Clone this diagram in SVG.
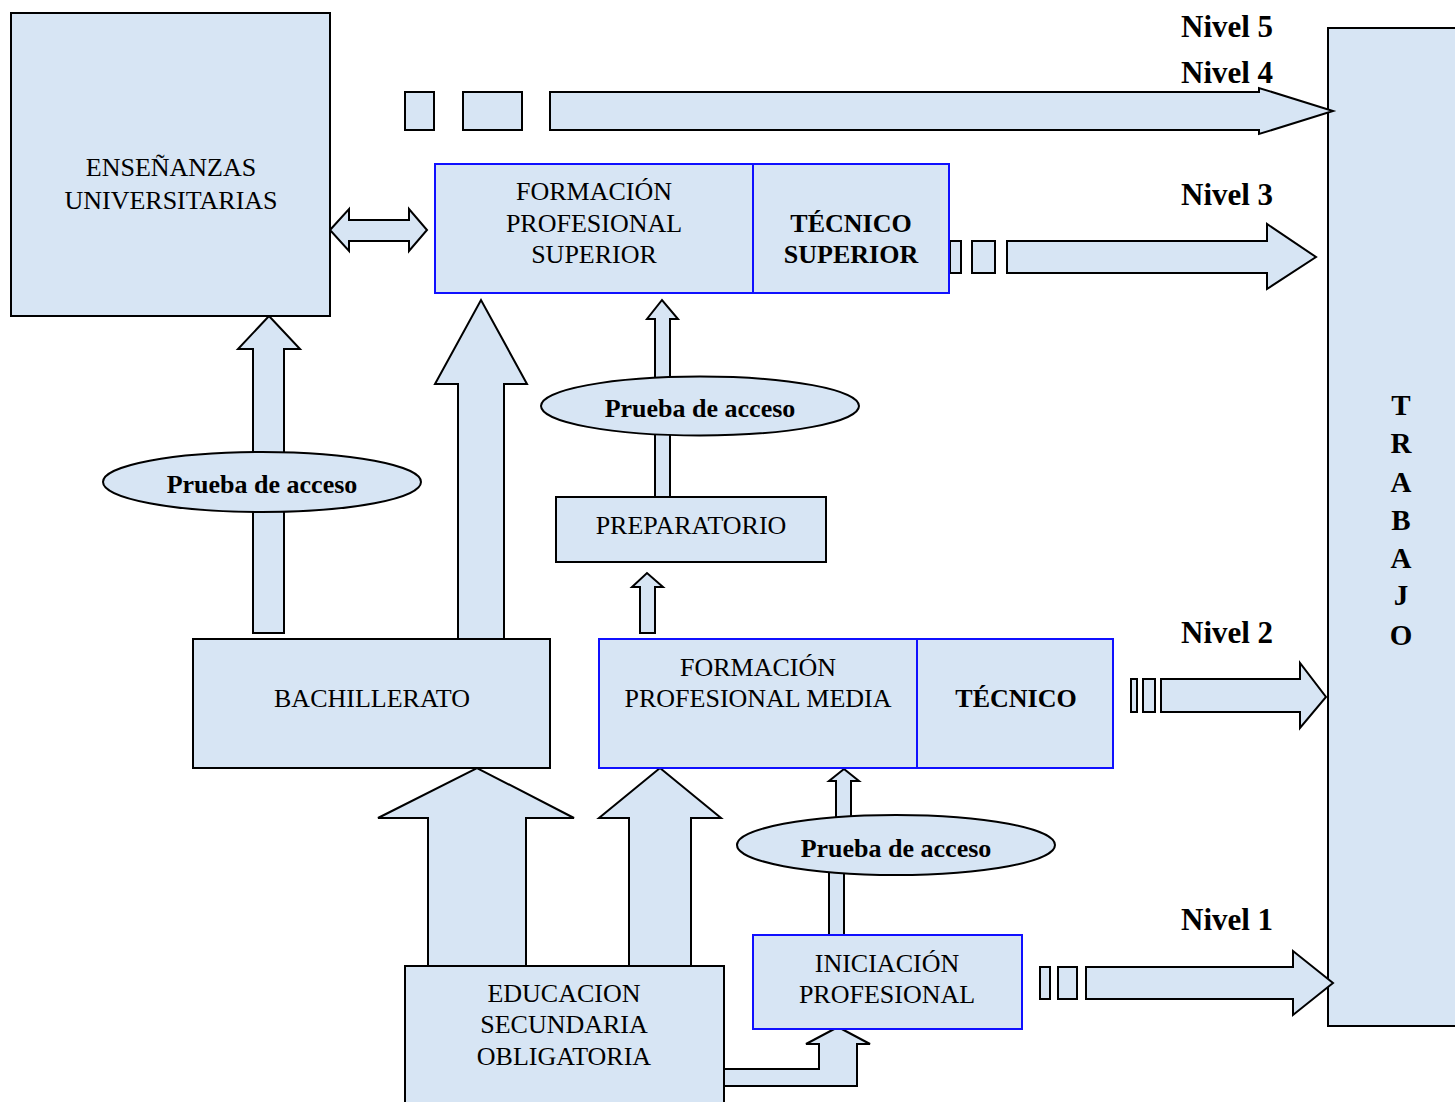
<svg xmlns="http://www.w3.org/2000/svg" width="1455" height="1102" viewBox="0 0 1455 1102">
<style>
.n{fill:#d7e5f4;stroke:#000;stroke-width:2}
.b{fill:#d7e5f4;stroke:#1010ff;stroke-width:2}
.a{fill:#d7e5f4;stroke:#000;stroke-width:2;stroke-linejoin:miter}
.t{font-family:"Liberation Serif","Times New Roman",serif;font-size:26px;fill:#000;text-anchor:middle}
.tb{font-family:"Liberation Serif","Times New Roman",serif;font-size:26px;font-weight:bold;fill:#000;text-anchor:middle}
.nv{font-family:"Liberation Serif","Times New Roman",serif;font-size:31px;font-weight:bold;fill:#000}
</style>
<rect width="1455" height="1102" fill="#fff"/>
<g id="trabajo">
<rect class="n" x="1328" y="28" width="140" height="998"/>
<text class="tb" x="1401" y="415" style="font-size:29px">T</text>
<text class="tb" x="1401" y="453" style="font-size:29px">R</text>
<text class="tb" x="1401" y="492" style="font-size:29px">A</text>
<text class="tb" x="1401" y="530" style="font-size:29px">B</text>
<text class="tb" x="1401" y="568" style="font-size:29px">A</text>
<text class="tb" x="1401" y="605" style="font-size:29px">J</text>
<text class="tb" x="1401" y="645" style="font-size:29px">O</text>
</g>
<g id="connectors">
<path class="a" d="M253,633 L253,349 L238,349 L269,316 L300,349 L284,349 L284,633 Z"/>
<path class="a" d="M458,639 L458,384 L435,384 L481,300 L527,384 L504,384 L504,639 Z"/>
<path class="a" d="M655,497 L655,319 L647,319 L662,300 L678,319 L670,319 L670,497 Z"/>
<path class="a" d="M640,633 L640,587 L632,587 L647,573 L663,587 L655,587 L655,633 Z"/>
<path class="a" d="M428,966 L428,818 L378,818 L477,768 L574,818 L526,818 L526,966 Z"/>
<path class="a" d="M629,966 L629,818 L599,818 L660,768 L721,818 L691,818 L691,966 Z"/>
<path class="a" d="M836,830 L836,781 L829,781 L844,769 L859,781 L851,781 L851,830 Z"/>
<rect class="a" x="829" y="860" width="15" height="75"/>
<path class="a" d="M724,1069 L819,1069 L819,1044 L806,1044 L838,1027 L870,1044 L857,1044 L857,1086 L724,1086"/>
<path class="a" d="M330,230 L349,209 L349,220 L409,220 L409,209 L427,230 L409,251 L409,241 L349,241 L349,251 Z"/>
<rect class="a" x="405" y="92" width="29" height="38"/>
<rect class="a" x="463" y="92" width="59" height="38"/>
<path class="a" d="M550,92 L1259,92 L1259,88 L1333,111 L1259,134 L1259,130 L550,130 Z"/>
<rect class="a" x="950" y="241" width="11" height="32"/>
<rect class="a" x="972" y="241" width="23" height="32"/>
<path class="a" d="M1007,241 L1267,241 L1267,224 L1316,257 L1267,289 L1267,273 L1007,273 Z"/>
<rect class="a" x="1131" y="679" width="6" height="33"/>
<rect class="a" x="1143" y="679" width="12" height="33"/>
<path class="a" d="M1161,679 L1300,679 L1300,663 L1326,697 L1300,728 L1300,712 L1161,712 Z"/>
<rect class="a" x="1040" y="967" width="10" height="32"/>
<rect class="a" x="1058" y="967" width="19" height="32"/>
<path class="a" d="M1086,967 L1293,967 L1293,951 L1333,983 L1293,1015 L1293,999 L1086,999 Z"/>
</g>
<g id="universitarias">
<rect class="n" x="11" y="13" width="319" height="303"/>
<text class="t" x="171" y="176">ENSEÑANZAS</text>
<text class="t" x="171" y="209">UNIVERSITARIAS</text>
</g>
<g id="fp-superior">
<rect class="b" x="435" y="164" width="514" height="129"/>
<line x1="753" y1="164" x2="753" y2="293" stroke="#1010ff" stroke-width="2"/>
<text class="t" x="594" y="200">FORMACIÓN</text>
<text class="t" x="594" y="232">PROFESIONAL</text>
<text class="t" x="594" y="263">SUPERIOR</text>
<text class="tb" x="851" y="232">TÉCNICO</text>
<text class="tb" x="851" y="263">SUPERIOR</text>
</g>
<g id="prueba-1">
<ellipse class="n" cx="262" cy="482" rx="159" ry="30"/>
<text class="tb" x="262" y="493">Prueba de acceso</text>
</g>
<g id="prueba-2">
<ellipse class="n" cx="700" cy="406" rx="159" ry="29.5"/>
<text class="tb" x="700" y="417">Prueba de acceso</text>
</g>
<g id="prueba-3">
<ellipse class="n" cx="896" cy="845" rx="159" ry="30"/>
<text class="tb" x="896" y="857">Prueba de acceso</text>
</g>
<g id="preparatorio">
<rect class="n" x="556" y="497" width="270" height="65"/>
<text class="t" x="691" y="534">PREPARATORIO</text>
</g>
<g id="bachillerato">
<rect class="n" x="193" y="639" width="357" height="129"/>
<text class="t" x="372" y="707">BACHILLERATO</text>
</g>
<g id="fp-media">
<rect class="b" x="599" y="639" width="514" height="129"/>
<line x1="917" y1="639" x2="917" y2="768" stroke="#1010ff" stroke-width="2"/>
<text class="t" x="758" y="676">FORMACIÓN</text>
<text class="t" x="758" y="707">PROFESIONAL MEDIA</text>
<text class="tb" x="1016" y="707">TÉCNICO</text>
</g>
<g id="iniciacion">
<rect class="b" x="753" y="935" width="269" height="94"/>
<text class="t" x="887" y="972">INICIACIÓN</text>
<text class="t" x="887" y="1003">PROFESIONAL</text>
</g>
<g id="eso">
<rect class="n" x="405" y="966" width="319" height="150"/>
<text class="t" x="564" y="1002">EDUCACION</text>
<text class="t" x="564" y="1033">SECUNDARIA</text>
<text class="t" x="564" y="1065">OBLIGATORIA</text>
</g>
<g id="niveles">
<text class="nv" x="1181" y="37">Nivel 5</text>
<text class="nv" x="1181" y="83">Nivel 4</text>
<text class="nv" x="1181" y="205">Nivel 3</text>
<text class="nv" x="1181" y="643">Nivel 2</text>
<text class="nv" x="1181" y="930">Nivel 1</text>
</g>
</svg>
